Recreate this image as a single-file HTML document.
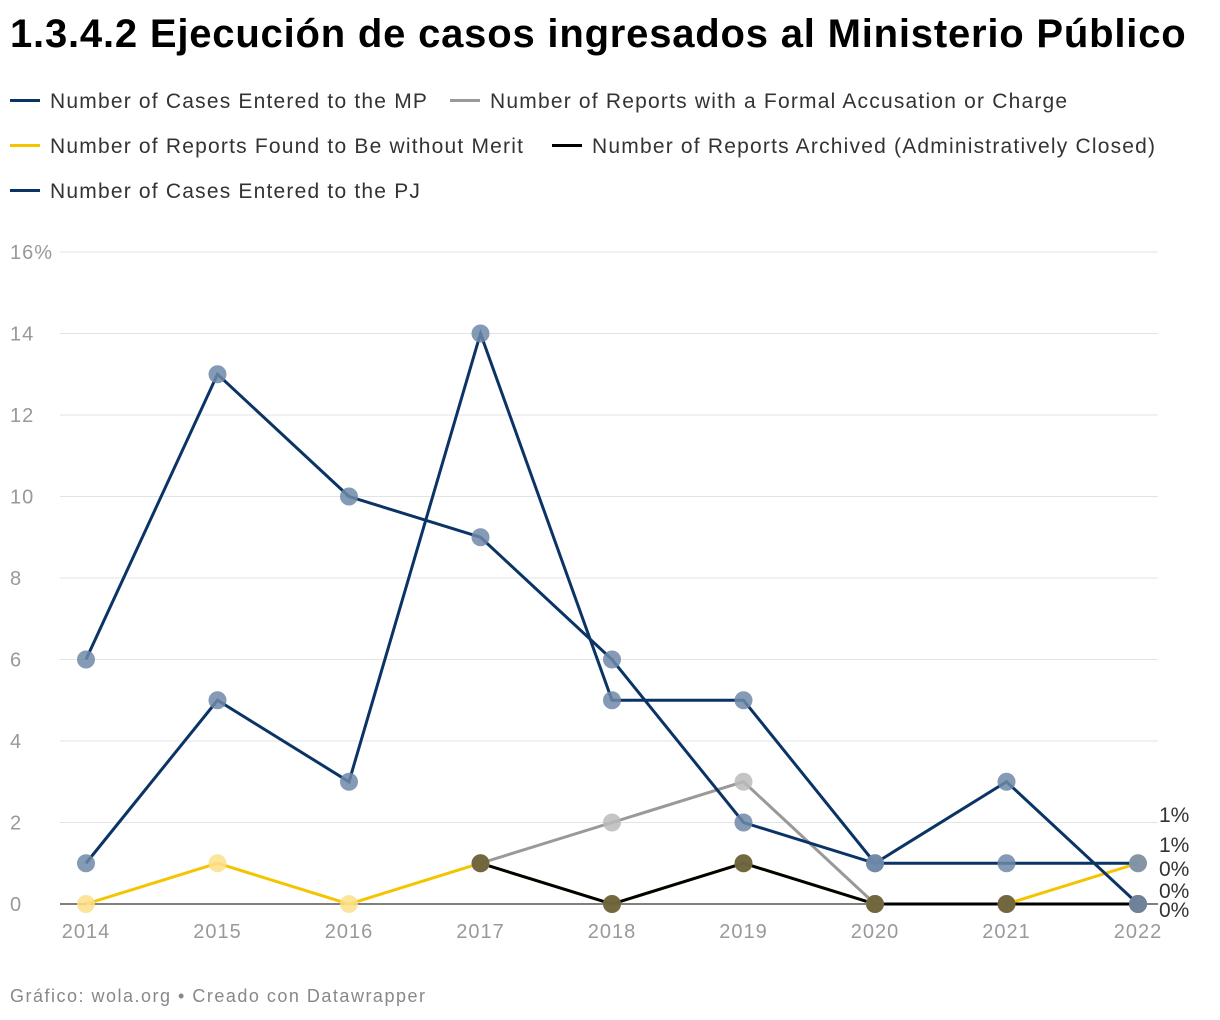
<!DOCTYPE html>
<html><head><meta charset="utf-8"><style>
body{margin:0;background:#fff;font-family:"Liberation Sans",sans-serif;}
#wrap{position:relative;width:1220px;height:1020px;}
h1{position:absolute;left:10px;top:12px;margin:0;font-size:40px;font-weight:bold;color:#000;letter-spacing:0.8px}
.leg{position:absolute;font-size:21px;color:#333;white-space:nowrap;letter-spacing:1.2px}
.leg i{display:inline-block;width:30px;height:3px;vertical-align:middle;margin-right:10px;position:relative;top:-2px}
.foot{position:absolute;left:10px;top:986px;font-size:18px;color:#888;letter-spacing:1.5px}
</style></head><body>
<div id="wrap">
<h1>1.3.4.2 Ejecución de casos ingresados al Ministerio Público</h1>
<div class="leg" style="left:10px;top:90px"><i style="background:#0b3466"></i>Number of Cases Entered to the MP</div>
<div class="leg" style="left:450px;top:90px"><i style="background:#999"></i>Number of Reports with a Formal Accusation or Charge</div>
<div class="leg" style="left:10px;top:135px"><i style="background:#f5c400"></i>Number of Reports Found to Be without Merit</div>
<div class="leg" style="left:552px;top:135px"><i style="background:#000"></i>Number of Reports Archived (Administratively Closed)</div>
<div class="leg" style="left:10px;top:180px"><i style="background:#0b3466"></i>Number of Cases Entered to the PJ</div>
<svg id="svg" width="1220" height="1020" style="position:absolute;left:0;top:0"></svg>
<div class="foot">Gráfico: wola.org • Creado con Datawrapper</div>
</div>
<script>
const years=[2014,2015,2016,2017,2018,2019,2020,2021,2022];
const yTicks=[0,2,4,6,8,10,12,14,16];
const mpValues=[6,13,10,9,6,2,1,1,1];
const pjValues=[1,5,3,14,5,5,1,3,0];
const accusationValues=[null,null,null,1,2,3,0,0,0];
const meritValues=[0,1,0,1,0,1,0,0,1];
const archivedValues=[null,null,null,1,0,1,0,0,0];
const endLabels=["1%","1%","0%","0%","0%"];
const NS="http://www.w3.org/2000/svg";
const svg=document.getElementById('svg');
const x=i=>86+i*131.5;
const y=v=>904-v*40.75;
function mk(t,a){const e=document.createElementNS(NS,t);for(const k in a)e.setAttribute(k,a[k]);svg.appendChild(e);return e;}
yTicks.forEach(t=>{
 if(t>0){const l=mk('line',{x1:60,x2:1158,y1:y(t),y2:y(t),stroke:'#e3e3e3','stroke-width':1});
 
 }
 const tx=mk('text',{x:10,y:y(t)+7,'font-size':20,fill:'#999','font-family':'Liberation Sans','letter-spacing':1});
 tx.textContent=t===16?'16%':t;
 
 
});
const ax=mk('line',{x1:60,x2:1158,y1:y(0),y2:y(0),stroke:'#000','stroke-width':1});


years.forEach((yr,i)=>{
 const tx=mk('text',{x:x(i),y:938,'font-size':20,fill:'#999','text-anchor':'middle','font-family':'Liberation Sans','letter-spacing':1});
 tx.textContent=yr;
 
 
});
const series=[
 ['accusation',accusationValues,'#999','#bbb'],
 ['without-merit',meritValues,'#f5c400','#fbe08a'],
 ['archived',archivedValues,'#000','#5a5230'],
 ['pj',pjValues,'#0b3466','#6f88a8'],
 ['mp',mpValues,'#0b3466','#6f88a8']];
series.forEach(([n,vals,c,dc])=>{
 let d='';let pen=false;
 vals.forEach((v,i)=>{if(v===null){pen=false;return;}d+=(pen?'L':'M')+x(i)+','+y(v);pen=true;});
 const p=mk('path',{d:d,fill:'none',stroke:c,'stroke-width':3});
 
 
});
series.forEach(([n,vals,c,dc])=>{
 vals.forEach((v,i)=>{if(v===null)return;
  const ci=mk('circle',{cx:x(i),cy:y(v),r:9,fill:dc,'fill-opacity':0.85});
  
  });
});
const ly=[822,852,876,898,917];
endLabels.forEach((s,i)=>{
 const tx=mk('text',{x:1159,y:ly[i],'font-size':21,fill:'#333','font-family':'Liberation Sans'});
 tx.textContent=s;
 
 
});
</script>
</body></html>
